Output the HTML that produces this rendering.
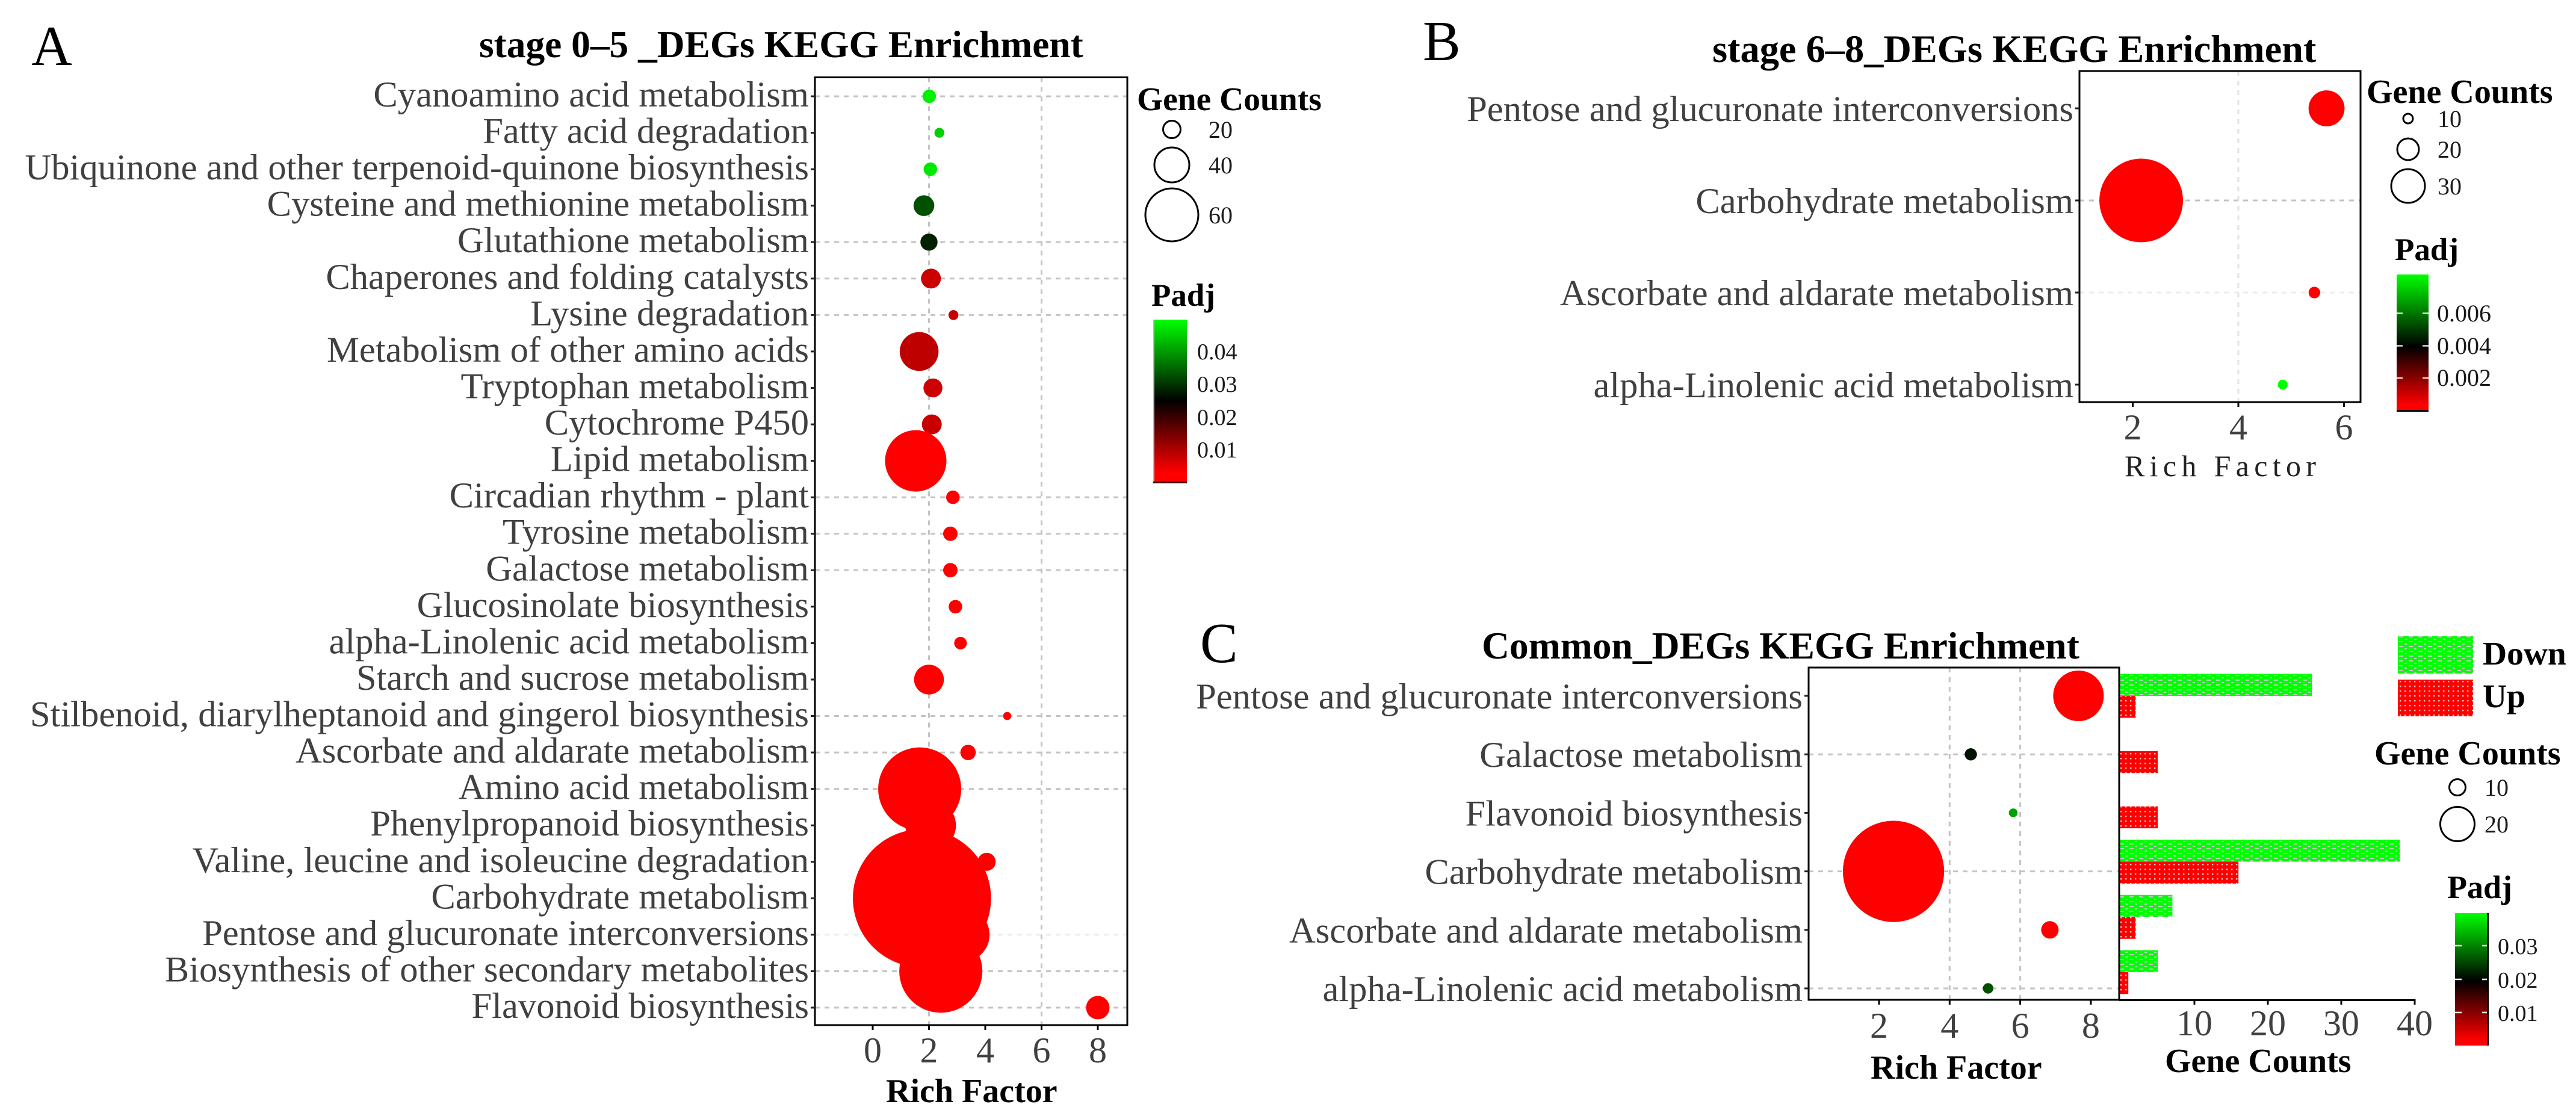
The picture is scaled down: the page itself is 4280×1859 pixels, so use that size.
<!DOCTYPE html>
<html lang="en">
<head>
<meta charset="utf-8">
<title>KEGG Enrichment of DEGs</title>
<style>
html,body{margin:0;padding:0;background:#fff;}
body{width:4280px;height:1859px;overflow:hidden;}
svg{display:block;font-family:"Liberation Serif","Noto Serif CJK SC",serif;}
.panel-letter{font-size:94px;fill:#000;}
.title{font-size:63.4px;font-weight:bold;fill:#000;}
.axis-title{font-size:56px;font-weight:bold;fill:#000;}
.legend-title{font-size:55.5px;font-weight:bold;fill:#000;}
.legend-label{font-size:40px;fill:#1a1a1a;}
.cbar-label{font-size:38px;fill:#1a1a1a;}
</style>
</head>
<body>
<svg id="chart" xmlns="http://www.w3.org/2000/svg" width="4280" height="1859" viewBox="0 0 4280 1859">
  <defs>
    <linearGradient id="cbar-a" x1="0" y1="1" x2="0" y2="0">
      <stop offset="0" stop-color="#ff0000"/><stop offset="0.06" stop-color="#ff0000"/><stop offset="0.5" stop-color="#000000"/><stop offset="1" stop-color="#00ff00"/>
    </linearGradient>
    <linearGradient id="cbar-b" x1="0" y1="1" x2="0" y2="0">
      <stop offset="0" stop-color="#ff0000"/><stop offset="0.04" stop-color="#ff0000"/><stop offset="0.47" stop-color="#000000"/><stop offset="1" stop-color="#00ff00"/>
    </linearGradient>
    <linearGradient id="cbar-c" x1="0" y1="1" x2="0" y2="0">
      <stop offset="0" stop-color="#ff0000"/><stop offset="0.04" stop-color="#ff0000"/><stop offset="0.49" stop-color="#000000"/><stop offset="1" stop-color="#00ff00"/>
    </linearGradient>
    <pattern id="hatch-down" patternUnits="userSpaceOnUse" width="16" height="8">
      <rect width="16" height="8" fill="#00ff00"/>
      <rect x="2" y="1" width="7" height="2" fill="#c0c8c0"/>
      <rect x="11" y="5" width="4" height="2" fill="#c0c8c0"/>
    </pattern>
    <pattern id="hatch-up" patternUnits="userSpaceOnUse" width="8" height="8">
      <rect width="8" height="8" fill="#ff0000"/>
      <rect x="3" y="3" width="2.4" height="2.4" fill="#ecc4c4"/>
    </pattern>
  </defs>

  <text class="panel-letter" x="52" y="108">A</text>
  <text class="panel-letter" x="2364" y="100">B</text>
  <text class="panel-letter" x="1994" y="1100">C</text>

  <text class="title" x="796" y="95">stage 0–5 _DEGs KEGG Enrichment</text>
  <text class="title" x="2845" y="103" style="font-size:64.4px">stage 6–8_DEGs KEGG Enrichment</text>
  <text class="title" x="2462" y="1094" style="font-size:63.6px">Common_DEGs KEGG Enrichment</text>

  <g id="panel-a"></g>
  <g id="panel-b"></g>
  <g id="panel-c"></g>
  <g id="panel-c-bars"></g>

  <text class="axis-title" x="1472" y="1831">Rich Factor</text>
  <text x="3530" y="791" font-size="50" fill="#222" textLength="318" lengthAdjust="spacing">Rich Factor</text>
  <text class="axis-title" x="3108" y="1792">Rich Factor</text>
  <text class="axis-title" x="3597" y="1781">Gene Counts</text>

  <!-- Panel A legends -->
  <g>
    <text class="legend-title" x="1889" y="183">Gene Counts</text>
    <circle cx="1947" cy="215" r="14.5" fill="none" stroke="#000" stroke-width="3"/>
    <circle cx="1947" cy="274" r="29" fill="none" stroke="#000" stroke-width="3"/>
    <circle cx="1947" cy="357" r="44" fill="none" stroke="#000" stroke-width="3"/>
    <text class="legend-label" x="2008" y="229">20</text>
    <text class="legend-label" x="2008" y="288">40</text>
    <text class="legend-label" x="2008" y="371">60</text>
  </g>
  <g>
    <text class="legend-title" x="1913" y="508" style="font-size:53px">Padj</text>
    <rect x="1918" y="531" width="54" height="270" fill="url(#cbar-a)"/>
    <rect x="1916" y="531" width="2" height="270" fill="#bbb"/>
    <rect x="1916" y="800" width="56" height="3" fill="#400"/>
    <text class="cbar-label" x="1989" y="597">0.04</text>
    <text class="cbar-label" x="1989" y="651">0.03</text>
    <text class="cbar-label" x="1989" y="706">0.02</text>
    <text class="cbar-label" x="1989" y="760">0.01</text>
  </g>

  <!-- Panel B legends -->
  <g>
    <text class="legend-title" x="3932" y="171" style="font-size:56px">Gene Counts</text>
    <circle cx="4001" cy="197" r="8" fill="none" stroke="#000" stroke-width="3"/>
    <circle cx="4001" cy="248" r="18" fill="none" stroke="#000" stroke-width="3"/>
    <circle cx="4001" cy="309" r="28" fill="none" stroke="#000" stroke-width="3"/>
    <text class="legend-label" x="4050" y="211">10</text>
    <text class="legend-label" x="4050" y="262">20</text>
    <text class="legend-label" x="4050" y="323">30</text>
  </g>
  <g>
    <text class="legend-title" x="3979" y="432" style="font-size:53px">Padj</text>
    <rect x="3982" y="456" width="53" height="226" fill="url(#cbar-b)"/>
    <rect x="3982" y="681" width="53" height="3" fill="#000"/>
    <path d="M3982 520.5h10M4025 520.5h10M3982 574.5h10M4025 574.5h10M3982 628h10M4025 628h10" stroke="#fff" stroke-width="2.5" fill="none" opacity="0.85"/>
    <text class="cbar-label" x="4049" y="534" style="font-size:40px">0.006</text>
    <text class="cbar-label" x="4049" y="588" style="font-size:40px">0.004</text>
    <text class="cbar-label" x="4049" y="641" style="font-size:40px">0.002</text>
  </g>

  <!-- Panel C legends -->
  <g>
    <rect x="3984" y="1057" width="125" height="62" fill="url(#hatch-down)"/>
    <rect x="3984" y="1129" width="125" height="61" fill="url(#hatch-up)"/>
    <text class="legend-title" x="4125" y="1104">Down</text>
    <text class="legend-title" x="4125" y="1175">Up</text>
  </g>
  <g>
    <text class="legend-title" x="3945" y="1270" style="font-size:56px">Gene Counts</text>
    <circle cx="4083" cy="1308" r="13.5" fill="none" stroke="#000" stroke-width="3"/>
    <circle cx="4083" cy="1369" r="28.5" fill="none" stroke="#000" stroke-width="3"/>
    <text class="legend-label" x="4128" y="1322">10</text>
    <text class="legend-label" x="4128" y="1383">20</text>
  </g>
  <g>
    <text class="legend-title" x="4066" y="1492" style="font-size:54px">Padj</text>
    <rect x="4079" y="1517" width="53" height="220" fill="url(#cbar-c)"/>
    <rect x="4132" y="1517" width="3" height="220" fill="#000"/>
    <path d="M4079 1571h11M4124 1571h8M4079 1627h11M4124 1627h8M4079 1682h11M4124 1682h8" stroke="#fff" stroke-width="2.5" fill="none"/>
    <text class="cbar-label" x="4150" y="1585">0.03</text>
    <text class="cbar-label" x="4150" y="1641">0.02</text>
    <text class="cbar-label" x="4150" y="1696">0.01</text>
  </g>
</svg>

<script>
// ---------- Panel A data ----------
const catsA = ["Cyanoamino acid metabolism","Fatty acid degradation","Ubiquinone and other terpenoid-quinone biosynthesis","Cysteine and methionine metabolism","Glutathione metabolism","Chaperones and folding catalysts","Lysine degradation","Metabolism of other amino acids","Tryptophan metabolism","Cytochrome P450","Lipid metabolism","Circadian rhythm - plant","Tyrosine metabolism","Galactose metabolism","Glucosinolate biosynthesis","alpha-Linolenic acid metabolism","Starch and sucrose metabolism","Stilbenoid, diarylheptanoid and gingerol biosynthesis","Ascorbate and aldarate metabolism","Amino acid metabolism","Phenylpropanoid biosynthesis","Valine, leucine and isoleucine degradation","Carbohydrate metabolism","Pentose and glucuronate interconversions","Biosynthesis of other secondary metabolites","Flavonoid biosynthesis"];
const richA = [2.01,2.37,2.05,1.82,2.0,2.07,2.87,1.65,2.14,2.1,1.53,2.85,2.76,2.76,2.94,3.12,2.0,4.78,3.39,1.67,2.06,4.05,1.75,3.19,2.42,8.0];
const countA = [15,11,15,23,19,22,11,43,21,22,68,15,16,16,15,14,33,9,17,92,56,20,153,60,92,26];
const padjA = [0.0485,0.0454,0.0477,0.0328,0.0281,0.0058,0.0065,0.007,0.0058,0.0062,0.001,0.001,0.001,0.001,0.001,0.001,0.001,0.001,0.001,0.001,0.001,0.001,0.001,0.001,0.001,0.001];
const ticksA = [0,2,4,6,8];
const gridRowsA = [1,5,6,7,12,13,14,18,19,20,25,26];
const faintRowsA = [24];
const gridTicksA = [2,6];

// ---------- Panel B data ----------
const catsB = ["Pentose and glucuronate interconversions","Carbohydrate metabolism","Ascorbate and aldarate metabolism","alpha-Linolenic acid metabolism"];
const richB = [5.67,2.16,5.44,4.84];
const countB = [31,72,10,8.5];
const padjB = [0.0002,0.0002,0.0002,0.0084];
const ticksB = [2,4,6];
const gridRowsB = [2];
const faintRowsB = [3];
const gridTicksB = [];
const faintTicksB = [4];

// ---------- Panel C data ----------
const catsC = ["Pentose and glucuronate interconversions","Galactose metabolism","Flavonoid biosynthesis","Carbohydrate metabolism","Ascorbate and aldarate metabolism","alpha-Linolenic acid metabolism"];
const richC = [7.65,4.6,5.8,2.41,6.84,5.09];
const countC = [29,7,5,58,10,6];
const padjC = [0.001,0.0215,0.0326,0.001,0.001,0.0263];
const ticksC = [2,4,6,8];
const gridRowsC = [2,4,6];
const gridTicksC = [4,6];
const downCounts = [26,0,0,38,7,5];
const upCounts = [2,5,5,16,2,1];
const barTicks = [10,20,30,40];

const SVGNS = "http://www.w3.org/2000/svg";
function mk(tag, attrs, parent){
  const el = document.createElementNS(SVGNS, tag);
  for (const k in attrs) el.setAttribute(k, attrs[k]);
  parent.appendChild(el);
  return el;
}
function padjColor(p, lo, mid, hi){
  if (p <= mid){
    const t = Math.max(0, Math.min(1, (mid - p) / (mid - lo)));
    return "rgb(" + Math.round(255 * t) + ",0,0)";
  }
  const t = Math.max(0, Math.min(1, (p - mid) / (hi - mid)));
  return "rgb(0," + Math.round(255 * t) + ",0)";
}

function drawBubblePanel(cfg){
  const g = document.getElementById(cfg.id);
  const xs = function(v){ return cfg.x0 + cfg.xUnit * v; };
  const ys = function(i){ return cfg.y0 + cfg.yStep * i; };
  const dash = {"stroke-width": 3, "stroke-dasharray": "8 8"};

  // grid
  function hLine(r, color){
    const el = mk("line", Object.assign({x1: cfg.left, x2: cfg.right, y1: ys(r - 1), y2: ys(r - 1), stroke: color}, dash), g);
    
    
  }
  function vLine(t, color){
    const el = mk("line", Object.assign({x1: xs(t), x2: xs(t), y1: cfg.top, y2: cfg.bottom, stroke: color}, dash), g);
    
    
  }
  cfg.gridRows.forEach(function(r){ hLine(r, "#c4c4c4"); });
  (cfg.faintRows || []).forEach(function(r){ hLine(r, "#ececec"); });
  cfg.gridTicks.forEach(function(t){ vLine(t, "#c4c4c4"); });
  (cfg.faintTicks || []).forEach(function(t){ vLine(t, "#e2e2e2"); });

  // bubbles
  cfg.cats.forEach(function(c, i){
    const el = mk("circle", {cx: xs(cfg.rich[i]), cy: ys(i), r: cfg.count[i] * cfg.sizeK / 2, fill: padjColor(cfg.padj[i], cfg.lo, cfg.mid, cfg.hi)}, g);
    
    
  });

  // frame
  const fr = mk("rect", {x: cfg.left, y: cfg.top, width: cfg.right - cfg.left, height: cfg.bottom - cfg.top, fill: "none", stroke: "#000", "stroke-width": 3}, g);
  
  

  // y axis
  cfg.cats.forEach(function(c, i){
    const tk = mk("line", {x1: cfg.left - 7, x2: cfg.left, y1: ys(i), y2: ys(i), stroke: "#222", "stroke-width": 3}, g);
    
    
    const lb = mk("text", {x: cfg.left - 10, y: ys(i) + cfg.labelDy, "text-anchor": "end", "font-size": 60.6, fill: "#404040"}, g);
    
    
    lb.textContent = c;
  });

  // x axis
  cfg.ticks.forEach(function(t){
    const tk = mk("line", {x1: xs(t), x2: xs(t), y1: cfg.bottom, y2: cfg.bottom + 8, stroke: "#000", "stroke-width": 3}, g);
    
    
    const lb = mk("text", {x: xs(t), y: cfg.tickY, "text-anchor": "middle", "font-size": 60, fill: "#404040"}, g);
    
    
    lb.textContent = t;
  });
}

drawBubblePanel({id:"panel-a", cats:catsA, rich:richA, count:countA, padj:padjA, ticks:ticksA, gridRows:gridRowsA, faintRows:faintRowsA, gridTicks:gridTicksA,
  left:1354, right:1873, top:128.5, bottom:1703, x0:1450, xUnit:46.75, y0:160, yStep:60.56, sizeK:1.5, lo:0.001, mid:0.025, hi:0.05, tickY:1765, labelDy:17});
drawBubblePanel({id:"panel-b", cats:catsB, rich:richB, count:countB, padj:padjB, ticks:ticksB, gridRows:gridRowsB, faintRows:faintRowsB, gridTicks:gridTicksB, faintTicks:faintTicksB,
  left:3455, right:3922, top:118, bottom:668, x0:3368, xUnit:87.75, y0:180, yStep:153, sizeK:1.93, lo:0.0002, mid:0.0042, hi:0.0084, tickY:730, labelDy:21});
drawBubblePanel({id:"panel-c", cats:catsC, rich:richC, count:countC, padj:padjC, ticks:ticksC, gridRows:gridRowsC, gridTicks:gridTicksC,
  left:3005, right:3521, top:1109, bottom:1661, x0:3004.7, xUnit:58.65, y0:1156, yStep:97.2, sizeK:2.9, lo:0.001, mid:0.02, hi:0.04, tickY:1724, labelDy:21});

// ---------- Panel C bars ----------
const barG = document.getElementById("panel-c-bars");
const barX = function(v){ return 3524 + 12.2 * v; };
const barY = function(i){ return 1156 + 91.8 * i; };
const barH = 36.5;
catsC.forEach(function(c, i){
  if (downCounts[i] > 0){
    const el = mk("rect", {x: 3522.5, y: barY(i) - barH, width: barX(downCounts[i]) - 3522.5, height: barH, fill: "url(#hatch-down)"}, barG);
    
    
  }
  if (upCounts[i] > 0){
    const el = mk("rect", {x: 3522.5, y: barY(i), width: barX(upCounts[i]) - 3522.5, height: barH, fill: "url(#hatch-up)"}, barG);
    
    
  }
});
const barAxis = mk("line", {x1: 3521, x2: barX(40) + 1.5, y1: 1661.5, y2: 1661.5, stroke: "#000", "stroke-width": 3}, barG);


barTicks.forEach(function(t){
  const tk = mk("line", {x1: barX(t), x2: barX(t), y1: 1661, y2: 1669, stroke: "#000", "stroke-width": 3}, barG);
  
  
  const lb = mk("text", {x: barX(t), y: 1720, "text-anchor": "middle", "font-size": 60, fill: "#404040"}, barG);
  
  
  lb.textContent = t;
});
</script>
</body>
</html>
